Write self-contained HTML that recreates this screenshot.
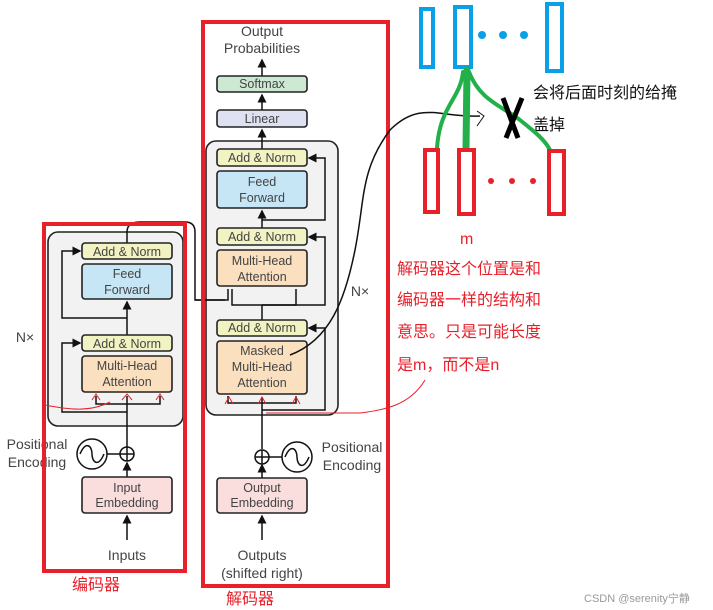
<!DOCTYPE html>
<html><head><meta charset="utf-8"><style>
body{margin:0;background:#fff;}
svg{display:block;font-family:"Liberation Sans","Noto Sans CJK SC",sans-serif;}
</style></head><body>
<svg width="713" height="610" viewBox="0 0 713 610" xmlns="http://www.w3.org/2000/svg">
<defs><marker id="a" markerWidth="6" markerHeight="6" refX="5" refY="3" orient="auto"><path d="M0,0 L6,3 L0,6 z" fill="#111"/></marker></defs>
<g stroke="#222" stroke-width="1.6" fill="none">
<!-- encoder gray -->
<rect x="48" y="232" width="135" height="194" rx="10" fill="#f2f2f2"/>
<!-- decoder gray -->
<rect x="206" y="141" width="132" height="274" rx="10" fill="#f2f2f2"/>
</g>
<g stroke="#111" stroke-width="1.5" fill="none">
<!-- encoder paths -->
<line x1="127" y1="540" x2="127" y2="516" marker-end="url(#a)"/>
<line x1="127" y1="477" x2="127" y2="463" marker-end="url(#a)"/>
<line x1="127" y1="447" x2="127" y2="396" />
<path d="M127,412 H62 V343 H80" marker-end="url(#a)"/>
<path d="M127,404 H96 V396 M127,404 H160 V396"/>
<line x1="127" y1="335" x2="127" y2="302" marker-end="url(#a)"/>
<path d="M127,318 H62 V251 H80" marker-end="url(#a)"/>
<path d="M127,243 V232 Q127,222 140,222 H185 Q195,222 195,232 V300 H225" />
<!-- decoder paths -->
<line x1="262" y1="540" x2="262" y2="516" marker-end="url(#a)"/>
<line x1="262" y1="478" x2="262" y2="465" marker-end="url(#a)"/>
<line x1="262" y1="449" x2="262" y2="397"/>
<path d="M262,410 H325 V328 H309" marker-end="url(#a)"/>
<path d="M262,403 H228 V396 M262,403 H296 V396"/>
<path d="M262,320 V305 H232 V289 M262,305 H296 V289" />
<path d="M262,305 H325 V237 H309" marker-end="url(#a)"/>
<path d="M195,300 H228 V289"/>
<line x1="262" y1="228" x2="262" y2="211" marker-end="url(#a)"/>
<path d="M262,220 H325 V158 H309" marker-end="url(#a)"/>
<line x1="262" y1="149" x2="262" y2="130" marker-end="url(#a)"/>
<line x1="262" y1="110" x2="262" y2="95" marker-end="url(#a)"/>
<line x1="262" y1="76" x2="262" y2="60" marker-end="url(#a)"/>
<!-- circles -->
<circle cx="127" cy="454" r="7" fill="#fff"/><path d="M120,454 H134 M127,447 V461"/>
<circle cx="92" cy="454" r="15" fill="#fff"/><path d="M80,454 C86,440 92,446 92,454 C92,462 98,468 104,454"/>
<line x1="107" y1="454" x2="120" y2="454"/>
<circle cx="262" cy="457" r="7" fill="#fff"/><path d="M255,457 H269 M262,450 V464"/>
<circle cx="297" cy="457" r="15" fill="#fff"/><path d="M285,457 C291,443 297,449 297,457 C297,465 303,471 309,457"/>
<line x1="269" y1="457" x2="282" y2="457"/>
</g>
<g stroke="#222" stroke-width="1.6">
<rect x="82" y="243" width="90" height="16" rx="3" fill="#f2f3c2"/>
<rect x="82" y="264" width="90" height="35" rx="3" fill="#c6e6f5"/>
<rect x="82" y="335" width="90" height="16" rx="3" fill="#f2f3c2"/>
<rect x="82" y="356" width="90" height="36" rx="3" fill="#fbe0bf"/>
<rect x="82" y="477" width="90" height="36" rx="3" fill="#f9dedd"/>
<rect x="217" y="149" width="90" height="17" rx="3" fill="#f2f3c2"/>
<rect x="217" y="171" width="90" height="37" rx="3" fill="#c6e6f5"/>
<rect x="217" y="228" width="90" height="17" rx="3" fill="#f2f3c2"/>
<rect x="217" y="250" width="90" height="36" rx="3" fill="#fbe0bf"/>
<rect x="217" y="320" width="90" height="16" rx="3" fill="#f2f3c2"/>
<rect x="217" y="341" width="90" height="53" rx="3" fill="#fbe0bf"/>
<rect x="217" y="110" width="90" height="17" rx="3" fill="#dde1f2"/>
<rect x="217" y="76" width="90" height="16" rx="3" fill="#cde9d3"/>
<rect x="217" y="478" width="90" height="35" rx="3" fill="#f9dedd"/>
</g>
<g fill="#444" font-size="12.5" text-anchor="middle">
<text x="127" y="256">Add &amp; Norm</text>
<text x="127" y="278">Feed</text><text x="127" y="294">Forward</text>
<text x="127" y="348">Add &amp; Norm</text>
<text x="127" y="370">Multi-Head</text><text x="127" y="386">Attention</text>
<text x="127" y="492">Input</text><text x="127" y="507">Embedding</text>
<text x="127" y="560" font-size="14">Inputs</text>
<text x="262" y="162">Add &amp; Norm</text>
<text x="262" y="186">Feed</text><text x="262" y="202">Forward</text>
<text x="262" y="241">Add &amp; Norm</text>
<text x="262" y="265">Multi-Head</text><text x="262" y="281">Attention</text>
<text x="262" y="332">Add &amp; Norm</text>
<text x="262" y="355">Masked</text><text x="262" y="371">Multi-Head</text><text x="262" y="387">Attention</text>
<text x="262" y="123">Linear</text>
<text x="262" y="88">Softmax</text>
<text x="262" y="492">Output</text><text x="262" y="507">Embedding</text>
<text x="262" y="560" font-size="14">Outputs</text>
<text x="262" y="578" font-size="14">(shifted right)</text>
<text x="262" y="36" font-size="14">Output</text>
<text x="262" y="53" font-size="14">Probabilities</text>
<text x="25" y="342" font-size="14">N×</text>
<text x="360" y="296" font-size="14">N×</text>
<text x="37" y="449" font-size="14">Positional</text>
<text x="37" y="467" font-size="14">Encoding</text>
<text x="352" y="452" font-size="14">Positional</text>
<text x="352" y="470" font-size="14">Encoding</text>
</g>
<!-- red boxes -->
<g stroke="#e8202a" stroke-width="4" fill="none">
<rect x="44" y="224" width="141" height="347"/>
<rect x="203" y="22" width="185" height="564"/>
</g>
<!-- red hand lines -->
<g stroke="#e8202a" stroke-width="1" fill="none">
<path d="M45,405 C70,410 90,412 110,402"/>
<path d="M92,400 l4,-6 l4,6 M122,400 l5,-6 l5,6 M156,400 l4,-6 l4,6"/>
<path d="M225,404 l4,-7 l4,7 M258,404 l4,-7 l4,7 M292,404 l4,-7 l4,7"/>
<path d="M266,413 H360 C385,410 410,405 425,380"/>
</g>
<g fill="#e8202a" font-size="16">
<text x="72" y="590">编码器</text>
<text x="226" y="604">解码器</text>
<text x="460" y="244">m</text>
<text x="397" y="274">解码器这个位置是和</text>
<text x="397" y="305">编码器一样的结构和</text>
<text x="397" y="337">意思。只是可能长度</text>
<text x="397" y="370">是m，而不是n</text>
</g>
<text x="533" y="98" font-size="16" fill="#111">会将后面时刻的给掩</text>
<text x="533" y="130" font-size="16" fill="#111">盖掉</text>
<!-- black hand curve -->
<path d="M290,355 C330,340 345,300 355,250 C365,200 360,170 390,130 C420,100 440,118 480,116" stroke="#111" stroke-width="1.5" fill="none"/>
<path d="M477,111 L484,116 L477,126" stroke="#111" stroke-width="1" fill="none"/>
<!-- blue rects -->
<g stroke="#0aa0e8" stroke-width="4" fill="none">
<rect x="421" y="9" width="12" height="58"/>
<rect x="455" y="7" width="16" height="60"/>
<rect x="547" y="4" width="15" height="67"/>
</g>
<g fill="#0aa0e8"><circle cx="482" cy="35" r="4"/><circle cx="503" cy="35" r="4"/><circle cx="524" cy="35" r="4"/></g>
<!-- green -->
<g stroke="#22b04a" fill="none" stroke-linecap="round">
<path d="M467,70 L466,148" stroke-width="7"/>
<path d="M463,72 C460,100 440,105 437,148" stroke-width="4"/>
<path d="M469,72 C480,100 500,105 520,120 C535,132 545,140 550,150" stroke-width="4"/>
</g>
<path d="M503,98 L518,138 M522,98 L506,138" stroke="#000" stroke-width="5"/>
<!-- red small rects -->
<g stroke="#e8202a" stroke-width="4" fill="none">
<rect x="425" y="150" width="13" height="62"/>
<rect x="459" y="150" width="15" height="64"/>
<rect x="549" y="151" width="15" height="63"/>
</g>
<g fill="#e8202a"><circle cx="491" cy="181" r="3"/><circle cx="512" cy="181" r="3"/><circle cx="533" cy="181" r="3"/></g>
<text x="584" y="602" font-size="11" fill="#999">CSDN @serenity宁静</text>
</svg>
</body></html>
